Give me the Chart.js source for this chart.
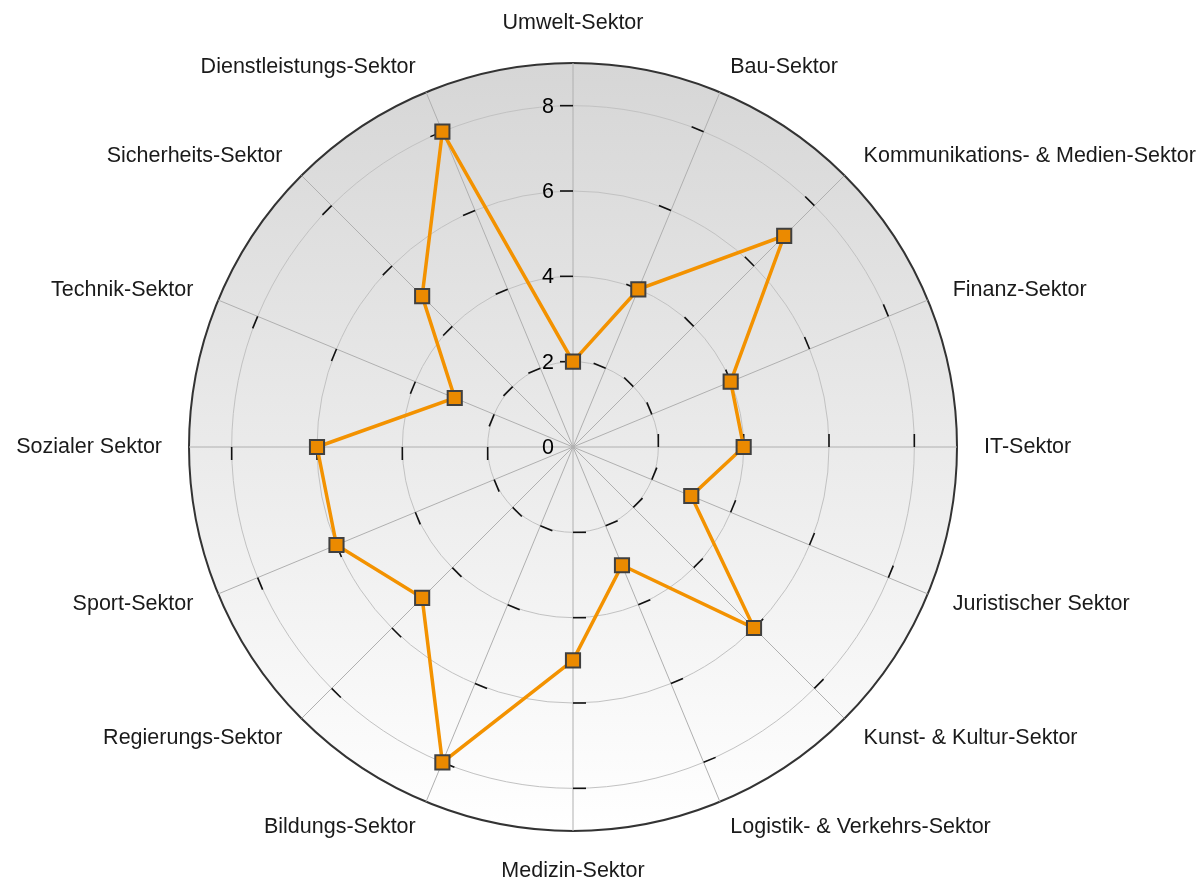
<!DOCTYPE html>
<html lang="de">
<head>
    <meta charset="UTF-8">
    <title>Sektoren</title>
    <script src="https://cdn.jsdelivr.net/npm/chart.js"></script>
    <style>
        html, body { margin: 0; padding: 0; background: #fff; overflow: hidden; }
        canvas { display: block; }
    </style>
</head>
<body>
    <canvas id="netz" width="1202" height="877"></canvas>

    <script>
        // Daten (im Uhrzeigersinn, oben beginnend)
        const sektoren = [
            'Umwelt-Sektor', 'Bau-Sektor', 'Kommunikations- & Medien-Sektor', 'Finanz-Sektor',
            'IT-Sektor', 'Juristischer Sektor', 'Kunst- & Kultur-Sektor', 'Logistik- & Verkehrs-Sektor',
            'Medizin-Sektor', 'Bildungs-Sektor', 'Regierungs-Sektor', 'Sport-Sektor',
            'Sozialer Sektor', 'Technik-Sektor', 'Sicherheits-Sektor', 'Dienstleistungs-Sektor'
        ];
        const werte = [2, 4, 7, 4, 4, 3, 6, 3, 5, 8, 5, 6, 6, 3, 5, 8];
        const skalaWerte = [0, 2, 4, 6, 8];
        const skalaMax = 9;

        const schrift = 'Liberation Sans, Arial, sans-serif';

        // Hintergrund, kleine Striche an den Speichen und Achsenbeschriftung
        const netzDeko = {
            id: 'netzDeko',
            beforeDraw(chart) {
                const s = chart.scales.r;
                const ctx = chart.ctx;
                const rad = s.drawingArea;
                const g = ctx.createLinearGradient(0, s.yCenter - rad, 0, s.yCenter + rad);
                g.addColorStop(0, '#d6d6d6');
                g.addColorStop(1, '#ffffff');
                ctx.save();
                ctx.beginPath();
                ctx.arc(s.xCenter, s.yCenter, rad, 0, Math.PI * 2);
                ctx.fillStyle = g;
                ctx.fill();
                ctx.restore();
            },
            beforeDatasetsDraw(chart) {
                const s = chart.scales.r;
                const ctx = chart.ctx;
                ctx.save();
                ctx.strokeStyle = '#111';
                ctx.lineWidth = 1.6;
                sektoren.forEach((_, i) => {
                    const a = s.getIndexAngle(i) - Math.PI / 2;
                    skalaWerte.forEach(v => {
                        if (v === 0) return;
                        const p = s.getPointPositionForValue(i, v);
                        ctx.beginPath();
                        ctx.moveTo(p.x, p.y);
                        ctx.lineTo(p.x + Math.sin(a) * 13, p.y - Math.cos(a) * 13);
                        ctx.stroke();
                    });
                });
                ctx.fillStyle = '#000';
                ctx.font = '21.5px ' + schrift;
                ctx.textAlign = 'right';
                ctx.textBaseline = 'middle';
                skalaWerte.forEach(v => {
                    const p = s.getPointPositionForValue(0, v);
                    ctx.fillText(String(v), p.x - 19, p.y + 1);
                });
                ctx.restore();
            }
        };

        new Chart(document.getElementById('netz'), {
            type: 'radar',
            data: {
                labels: sektoren,
                datasets: [{
                    data: werte,
                    borderColor: '#f39200',
                    borderWidth: 3.5,
                    fill: false,
                    tension: 0,
                    pointStyle: 'rect',
                    pointRadius: 10,
                    pointHoverRadius: 10,
                    pointBackgroundColor: '#eb8a00',
                    pointBorderColor: '#404040',
                    pointBorderWidth: 2
                }]
            },
            options: {
                responsive: false,
                animation: false,
                plugins: {
                    legend: { display: false },
                    tooltip: { enabled: false }
                },
                scales: {
                    r: {
                        min: 0,
                        max: skalaMax,
                        beginAtZero: true,
                        ticks: { display: false, stepSize: 2 },
                        grid: {
                            circular: true,
                            color: c => (c.tick && c.tick.value >= skalaMax) ? '#333' : '#c2c2c2',
                            lineWidth: c => (c.tick && c.tick.value >= skalaMax) ? 2 : 1
                        },
                        angleLines: { color: '#b0b0b0', lineWidth: 1 },
                        pointLabels: {
                            display: true,
                            padding: 27,
                            color: '#1a1a1a',
                            font: { family: schrift, size: 21.5 }
                        },
                        // Mittelpunkt und Radius wie im Original festlegen
                        afterFit(s) {
                            const cx = 573, cy = 447, rad = 384;
                            const dx = cx - s.xCenter, dy = cy - s.yCenter, dr = rad - s.drawingArea;
                            s.xCenter = cx;
                            s.yCenter = cy;
                            s.drawingArea = rad;
                            (s._pointLabelItems || []).forEach((it, i) => {
                                const a = s.getIndexAngle(i) - Math.PI / 2;
                                const grad = Math.round(s.getIndexAngle(i) * 180 / Math.PI) % 360;
                                const h = it.bottom - it.top;
                                let mx = dx + Math.cos(a) * dr;
                                let my = dy + Math.sin(a) * dr;
                                if (grad % 90 !== 0) my += (grad < 90 || grad > 270) ? h / 2 : -h / 2;
                                it.x += mx; it.left += mx; it.right += mx;
                                it.y += my; it.top += my; it.bottom += my;
                            });
                        }
                    }
                }
            },
            plugins: [netzDeko]
        });
    </script>
</body>
</html>
